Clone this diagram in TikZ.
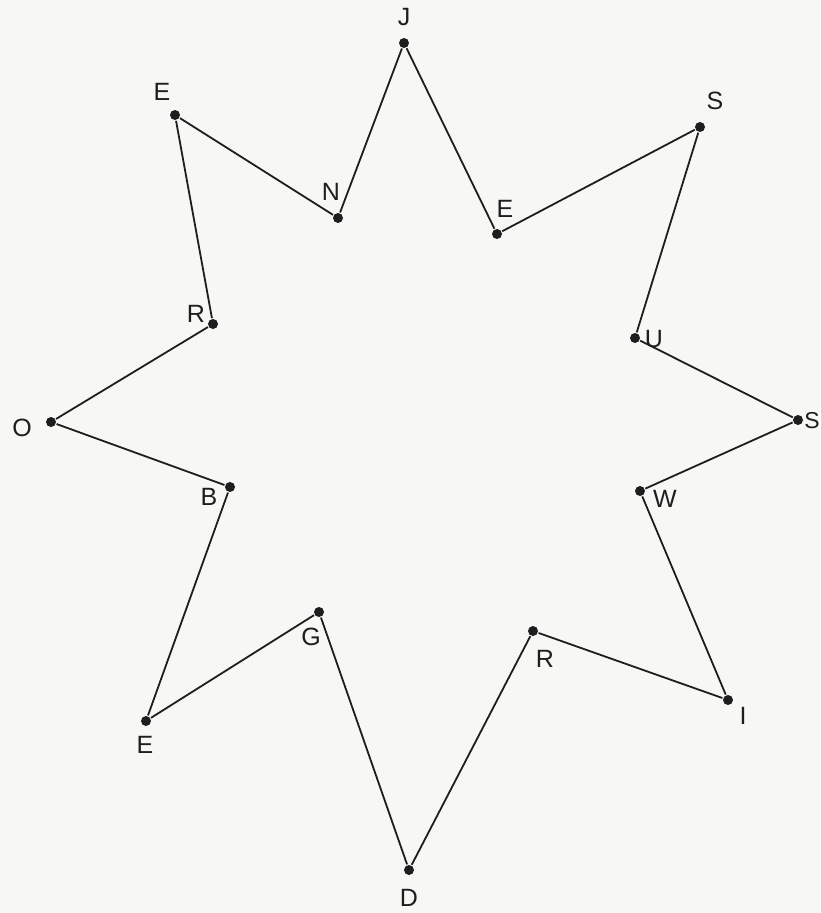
\documentclass[tikz,border=0pt]{standalone}
\usepackage{fontspec}
\setmainfont{Liberation Sans}
\usepackage{tikz}
\usetikzlibrary{positioning}
\definecolor{paper}{HTML}{F7F7F5}
\definecolor{pencil}{HTML}{1E1E1E}

\tikzset{
  vertex/.style={circle, fill=pencil, inner sep=0pt, minimum size=10pt},
  letter/.style={text=pencil, font=\fontsize{25}{25}\selectfont, inner sep=0pt}
}

\begin{document}
\begin{tikzpicture}[x=1pt, y=-1pt, line width=1.8pt]
  % Papier
  \useasboundingbox (0,0) rectangle (820,913);
  \clip (0,0) rectangle (820,913);
  \fill[paper] (0,0) rectangle (820,913);

  % Ecken des Sterns mit Buchstaben
  \foreach \n/\x/\y/\lx/\ly/\t in {
      1/404/43/404/17/J, 2/497/234/505/209/E, 3/700/127/715/101/S,
      4/635/338/654/339/U, 5/798/420/812/421/S, 6/640/491/665/499/W,
      7/728/700/743/716/I, 8/533/631/545/659/R, 9/409/870/409/898/D,
      10/319/612/311/637/G, 11/146/721/145/745/E, 12/230/487/209/497/B,
      13/51/422/22/428/O, 14/213/324/196/314/R, 15/175/115/162/92/E,
      16/338/218/331/192/N} {
    \node[vertex] (p\n) at (\x,\y) {};
    \node[letter] (l\n) at (\lx,\ly) {\fontsize{\ifnum\n=5 23\else 25\fi}{25}\selectfont\t};
  }

  % Umriss
  \draw[pencil, line join=round] (p1) -- (p2) -- (p3) -- (p4) -- (p5) -- (p6) -- (p7) -- (p8)
    -- (p9) -- (p10) -- (p11) -- (p12) -- (p13) -- (p14) -- (p15) -- (p16) -- (p1);
\end{tikzpicture}
\end{document}
